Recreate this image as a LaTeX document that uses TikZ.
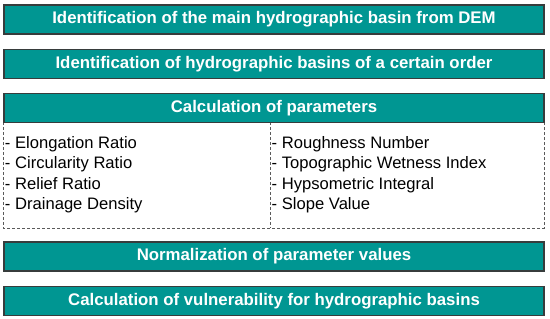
\documentclass[tikz,border=0pt]{standalone}
\usepackage{fontspec}
\setmainfont{Liberation Sans}
\usepackage{xcolor}
\usetikzlibrary{positioning}
\definecolor{basinteal}{RGB}{0,150,146}
\definecolor{basinedge}{RGB}{55,60,60}
\definecolor{dashgray}{RGB}{90,90,90}

\begin{document}
\begin{tikzpicture}[x=1bp,y=1bp,
  stepbox/.style={rectangle,draw=basinedge,line width=1.3bp,fill=basinteal,
    minimum width=540bp,minimum height=29bp,inner sep=0pt,
    text=white,font=\fontsize{16.8bp}{19bp}\selectfont\bfseries},
  panel/.style={rectangle,minimum width=540bp,minimum height=106bp,inner sep=0pt},
  items/.style={align=left,inner sep=0pt,font=\fontsize{16.6bp}{20.5bp}\selectfont},
  dashline/.style={draw=dashgray,dash pattern=on 3bp off 2bp,line width=0.8bp}]
\useasboundingbox (0,0) rectangle (550,-318);
\node[stepbox] (dem) at (274,-19.5) {Identification of the main hydrographic basin from DEM};
\node[stepbox,below=14bp of dem] (order) {Identification of hydrographic basins of a certain order};
\node[panel,below=43bp of order] (params) {};
\coordinate[xshift=-4bp] (split) at (params.north);
\draw[dashline] (params.north west) |- (params.south east) -- (params.north east);
\draw[dashline] (split) -- (split |- params.south);
\node[stepbox,below=14bp of order] (calc) {Calculation of parameters};
\node[items,anchor=north west,xshift=1bp,yshift=-14bp] (leftlist) at (params.north west)
  {- Elongation Ratio\\- Circularity Ratio\\- Relief Ratio\\- Drainage Density};
\node[items,anchor=north west,xshift=1.5bp,yshift=-14bp] (rightlist) at (split)
  {- Roughness Number\\- Topographic Wetness Index\\- Hypsometric Integral\\- Slope Value};
\node[stepbox,below=13bp of params] (norm) {Normalization of parameter values};
\node[stepbox,below=14bp of norm] (vuln) {Calculation of vulnerability for hydrographic basins};
\end{tikzpicture}
\end{document}
